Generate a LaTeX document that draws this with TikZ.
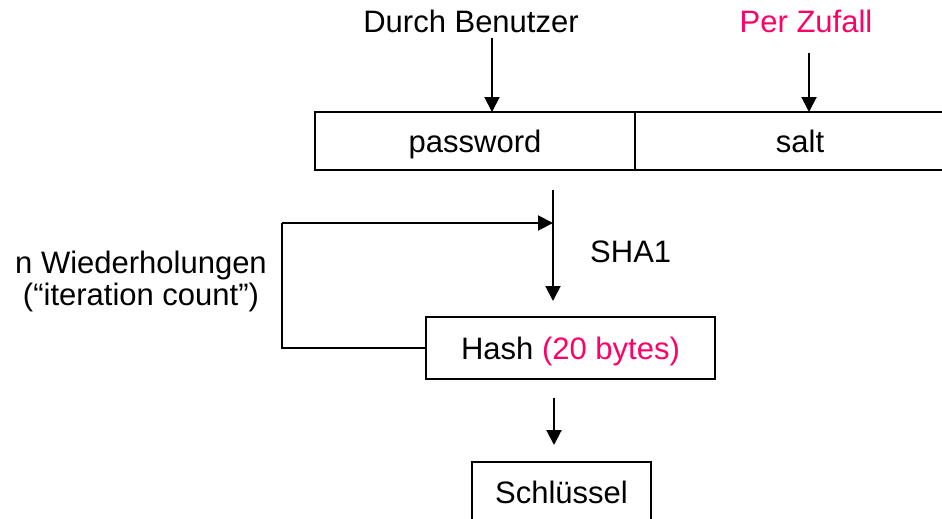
\documentclass[tikz,border=0pt]{standalone}
\usepackage{fontspec}
\setmainfont{Liberation Sans}
\usetikzlibrary{arrows.meta}
\definecolor{hot}{RGB}{255,0,102}
\tikzset{
  txt/.style={font=\fontsize{31}{32}\selectfont, inner sep=0pt, anchor=base},
  box/.style={draw, line width=2pt, inner sep=0pt, outer sep=0pt, text height=22pt, text depth=0pt,
              font=\fontsize{31}{32}\selectfont},
  arr/.style={line width=2pt, -{Triangle[length=15pt,width=15pt]}},
  wire/.style={line width=2pt}
}
\begin{document}
\begin{tikzpicture}[x=1pt,y=-1pt]
\useasboundingbox (0,0) rectangle (942,519);
\clip (0,0) rectangle (942,519);

% inputs
\node[txt] (user) at (471,33) {Durch Benutzer};
\node[txt, text=hot] (rand) at (806,33) {Per Zufall};

% password | salt
\node[box, minimum width=320pt, minimum height=58pt] (pw) at (475,141) {password};
\node[box, minimum width=330pt, minimum height=58pt, anchor=west] (salt) at (pw.east) {salt};

\coordinate (ua) at (492,38);
\coordinate (ra) at (809,53);
\draw[arr] (ua) -- (ua |- pw.north);
\draw[arr] (ra) -- (ra |- salt.north);

% hashing step
\node[box, minimum width=289pt, minimum height=62pt] (hash) at (570.5,348)
  {Hash \textcolor{hot}{(20 bytes)}};
\node[txt, anchor=base west] (sha) at (590,262) {SHA1};
\coordinate (hs) at (553,190);
\coordinate (he) at (553,301);
\draw[arr] (hs) -- (he);

% iteration loop
\coordinate (lp) at (282,223);
\coordinate (lt) at (553,223);
\draw[wire] (hash.west) -| (lp);
\draw[arr] (lp) -- (lt);
\node[txt] (iterA) at (141,273) {n Wiederholungen};
\node[txt] (iterB) at (141,305) {(“iteration count”)};

% derived key
\node[box, minimum width=179pt, minimum height=60pt] (key) at (561.5,492) {Schlüssel};
\coordinate (ks) at (554,398);
\coordinate (ke) at (554,445);
\draw[arr] (ks) -- (ke);
\end{tikzpicture}
\end{document}
